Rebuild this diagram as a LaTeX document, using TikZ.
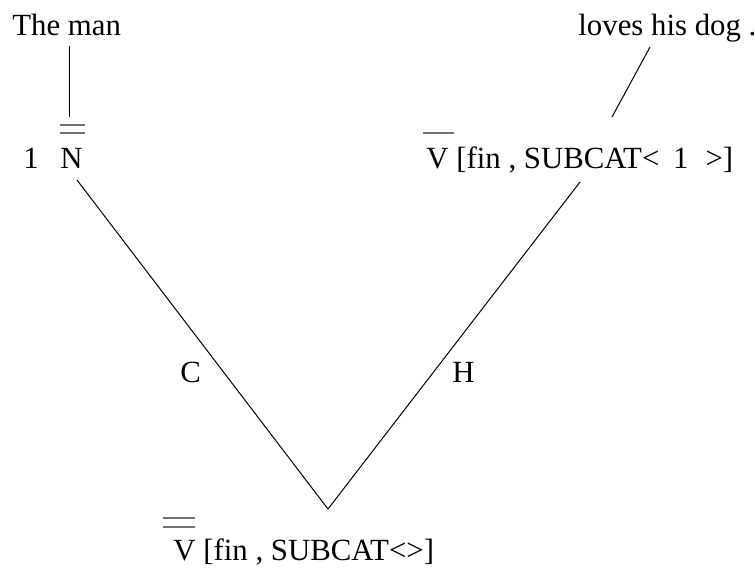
\documentclass[tikz,border=0pt]{standalone}
\usepackage{fontspec}
\setmainfont{Liberation Serif}
\usetikzlibrary{calc}

\begin{document}
\begin{tikzpicture}[
    x=0.5pt, y=-0.5pt,
    font=\fontsize{15.4}{18}\selectfont,
    cat/.style={inner sep=0pt, anchor=base west},
    bar/.style={line width=0.6pt, black!55},
    edge/.style={line width=0.5pt}
]
\useasboundingbox (0,0) rectangle (755,570);

\node[cat] (man) at (12,35) {The man};
\node[cat] (dog) at (578,35) {loves his dog .};
\node[cat] (idx) at (23,168) {1};
\node[cat] (nbar) at (60,168) {N};
\node[cat] (vbar) at (426,168) {V [fin , SUBCAT<\hspace{0.45em}1\hspace{0.55em}>]};
\node[cat] (vroot) at (173,560) {V [fin , SUBCAT<>]};
\node[cat] (comp) at (180,382) {C};
\node[cat] (head) at (452,382) {H};
\coordinate (top) at (328,509);

\draw[bar] ($(nbar.base west)+(0,-43)$) -- +(25,0);
\draw[bar] ($(nbar.base west)+(0,-35)$) -- +(25,0);
\draw[bar] ($(vbar.base west)+(-3,-35)$) -- +(31,0);
\draw[bar] ($(vroot.base west)+(-10,-42)$) -- +(32,0);
\draw[bar] ($(vroot.base west)+(-10,-33)$) -- +(32,0);

\draw[edge] ($(man.base west)+(57,11)$) -- ($(nbar.base west)+(9,-51)$);
\draw[edge] ($(dog.base west)+(72,12)$) -- ($(vbar.base west)+(186,-51)$);
\draw[edge] ($(nbar.base west)+(17,12)$) -- (top);
\draw[edge] ($(vbar.base west)+(154,14)$) -- (top);
\end{tikzpicture}
\end{document}
